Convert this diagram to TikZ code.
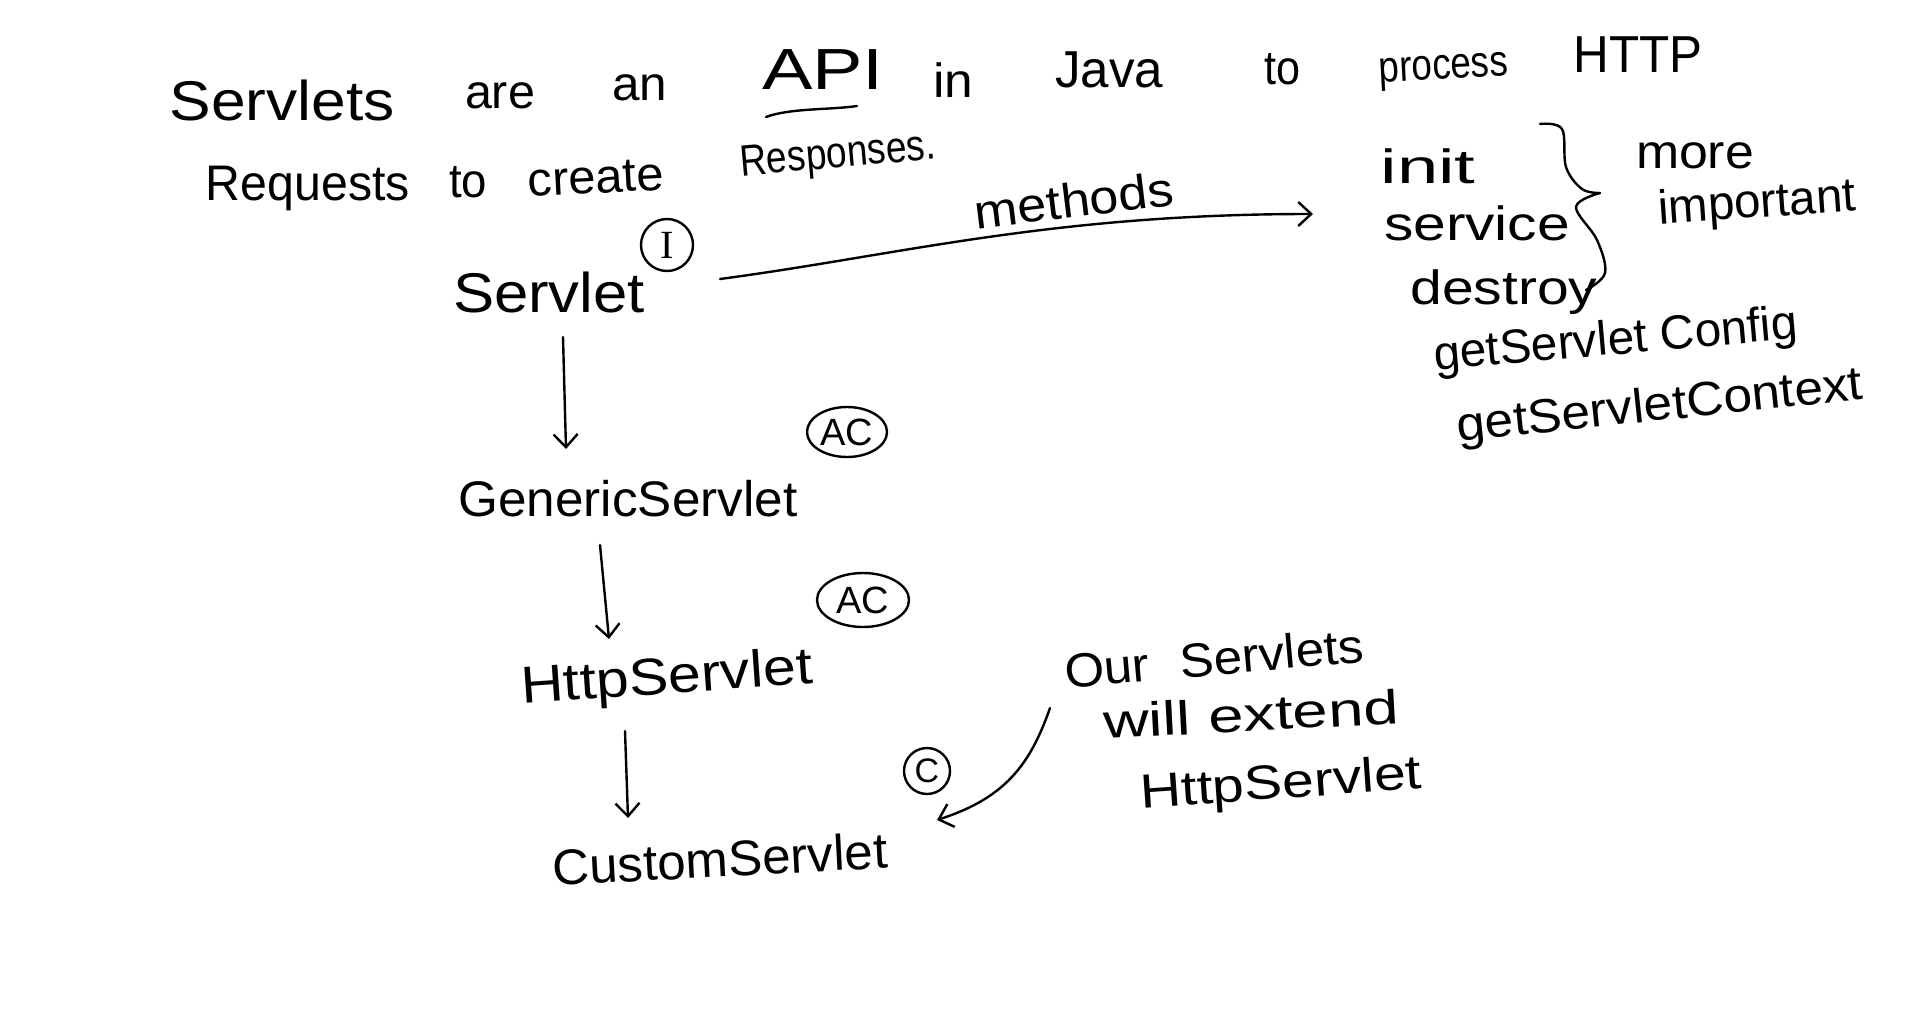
\documentclass[tikz,border=0pt]{standalone}
\usepackage{graphicx}
\usepackage{fontspec}
\setmainfont{Liberation Sans}
\newfontfamily\serifI{Liberation Serif}
\usetikzlibrary{arrows.meta,shapes.geometric,calc}
\newcommand{\hw}[3][48]{\resizebox{#2pt}{\height}{\fontsize{#1}{#1}\selectfont #3}}
\tikzset{
  txt/.style={inner sep=0pt, anchor=center},
  ink/.style={line width=2.4pt, line cap=round, line join=round},
  arr/.style={ink, -{Straight Barb[length=13pt,width=24pt,line width=2.4pt]}},
  ring/.style={draw, line width=2.4pt, circle, inner sep=0pt},
  oval/.style={draw, line width=2.4pt, ellipse, inner sep=0pt, font=\fontsize{38}{42}\selectfont}
}
\begin{document}
\begin{tikzpicture}[x=1pt,y=-1pt]
\path[use as bounding box, fill=white] (0,0) rectangle (1920,1017);

% first sentence
\node[txt] (w1) at (282,100) {\hw[56]{225}{Servlets}};
\node[txt] (w2) at (500,96) {\hw{70}{are}};
\node[txt] (w3) at (640,88) {\hw{55}{an}};
\node[txt] (w4) at (823,70) {\hw[58]{122}{API}};
\node[txt] (w5) at (953,80) {\hw{40}{in}};
\node[txt] (w6) at (1109,70) {\hw[52]{108}{Java}};
\node[txt] (w7) at (1282,69) {\hw{36}{to}};
\node[txt, rotate=3] (w8) at (1444,72) {\hw[44]{129}{process}};
\node[txt] (w9) at (1638,55) {\hw[52]{129}{HTTP}};
\node[txt] (w10) at (308,188) {\hw[50]{204}{Requests}};
\node[txt] (w11) at (468,182) {\hw{38}{to}};
\node[txt, rotate=3] (w12) at (596,178) {\hw{136}{create}};
\node[txt, rotate=5] (w13) at (838,157) {\hw[44]{196}{Responses.}};
\draw[ink] (766,117) .. controls (790,108) and (830,110) .. (857,106);

% hierarchy
\node[txt] (servlet) at (549,292) {\hw[56]{192}{Servlet}};
\node[ring, minimum size=52pt, font=\fontsize{40}{44}\selectfont] (ci) at (667,245) {\serifI I};
\node[txt] (generic) at (628,499) {\hw[50]{339}{GenericServlet}};
\node[oval, minimum width=80pt, minimum height=50pt] (ac1) at (847,432) {AC};
\node[txt, rotate=4] (http) at (667,680) {\hw[52]{292}{HttpServlet}};
\node[oval, minimum width=92pt, minimum height=54pt] (ac2) at (863,600) {AC};
\node[txt, rotate=3] (custom) at (720,859) {\hw[50]{335}{CustomServlet}};
\node[ring, minimum size=46pt, font=\fontsize{34}{38}\selectfont] (cc) at (927,771) {C};

\draw[arr] ($(servlet.center)+(14,45)$) -- ($(generic.center)+(-62,-50)$);
\draw[arr] ($(generic.center)+(-28,46)$) -- ($(http.center)+(-58,-41)$);
\draw[arr] ($(http.center)+(-42,51)$) -- ($(custom.center)+(-92,-41)$);

% methods
\node[txt] (init) at (1428,166) {\hw{95}{init}};
\node[txt] (service) at (1477,223) {\hw{186}{service}};
\node[txt] (destroy) at (1504,292) {\hw{187}{destroy}};
\node[txt, rotate=5] (gsc) at (1616,342) {\hw{365}{getServlet Config}};
\node[txt, rotate=6] (gsx) at (1660,408) {\hw{408}{getServletContext}};
\node[txt, rotate=7] (meth) at (1074,200) {\hw{200}{methods}};
\draw[arr] ($(servlet.center)+(171,-13)$) .. controls (900,255) and (1050,214) .. ($(init.center)+(-115,48)$);

\draw[ink] plot[smooth, tension=0.6] coordinates {(1540,124) (1562,129) (1566,167) (1582,189) (1600,193)};
\draw[ink] plot[smooth, tension=0.6] coordinates {(1600,193) (1576,207) (1597,240) (1605,273) (1586,290)};
\node[txt] (more) at (1695,156) {\hw{118}{more}};
\node[txt, rotate=4] (imp) at (1757,205) {\hw{198}{important}};

% note
\node[txt, rotate=5] (ours) at (1214,658) {\hw{300}{Our\hspace{0.6em}Servlets}};
\node[txt, rotate=3] (will) at (1251,714) {\hw{296}{will extend}};
\node[txt, rotate=4] (hs2) at (1281,786) {\hw{282}{HttpServlet}};
\draw[arr] ($(ours.center)+(-164,50)$) .. controls (1030,765) and (1005,798) .. ($(custom.center)+(217,-39)$);
\end{tikzpicture}
\end{document}
